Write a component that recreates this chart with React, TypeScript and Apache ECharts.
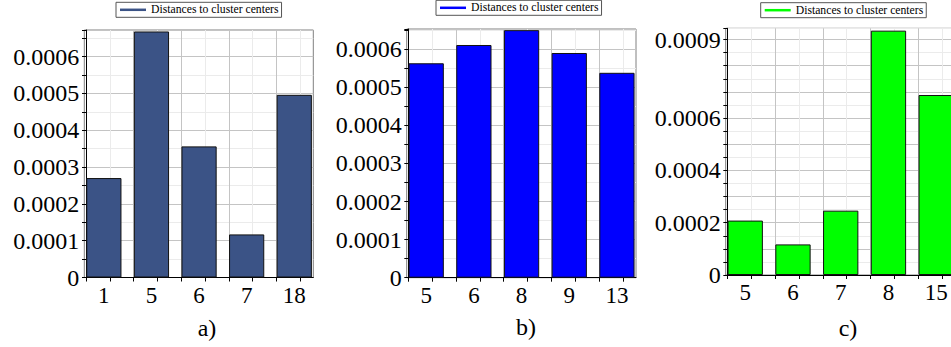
import React, { useEffect, useRef } from "react";
import * as echarts from "echarts";

// ---- data ----
const legendName = "Distances to cluster centers";

const catsA = ["1", "5", "6", "7", "18"];
const valsA = [0.00027, 0.000668, 0.000356, 0.000117, 0.000496];

const catsB = ["5", "6", "8", "9", "13"];
const valsB = [0.000563, 0.000611, 0.00065, 0.00059, 0.000538];

const catsC = ["5", "6", "7", "8", "15"];
const valsC = [0.000208, 0.000117, 0.000246, 0.000934, 0.000688];

const yLabelsA = [0, 0.0001, 0.0002, 0.0003, 0.0004, 0.0005, 0.0006];
const yLabelsB = [0, 0.0001, 0.0002, 0.0003, 0.0004, 0.0005, 0.0006];
const yLabelsC = [0, 0.0002, 0.0004, 0.0006, 0.0009];

const captions = ["a)", "b)", "c)"];

// ---- layout / style ----
const FONT = "Liberation Serif";
const MAJOR = "#c4c4c4";
const MINOR = "#ebebeb";

const panels = [
  {
    cats: catsA, vals: valsA, yLabels: yLabelsA, color: "#3b5386",
    left: 84.3, top: 30, width: 229, height: 247.5,
    xMin: -0.036, xMax: 4.775, yMax: 0.000672,
    legendLeft: 116, legendTop: 2.3, capX: 207, capY: 328,
  },
  {
    cats: catsB, vals: valsB, yLabels: yLabelsB, color: "#0000ff",
    left: 406.7, top: 29, width: 229.3, height: 248.7,
    xMin: -0.034, xMax: 4.775, yMax: 0.000653,
    legendLeft: 436, legendTop: 0.3, capX: 526, capY: 327,
  },
  {
    cats: catsC, vals: valsC, yLabels: yLabelsC, color: "#00ff00",
    left: 725.7, top: 28.3, width: 229.6, height: 246.7,
    xMin: -0.034, xMax: 4.775, yMax: 0.000943,
    legendLeft: 760.7, legendTop: 2.7, capX: 848, capY: 328,
  },
];

const fmtY = (v: number) => (v === 0 ? "0" : v.toFixed(4));

export default function App() {
  const ref = useRef<HTMLDivElement>(null);

  useEffect(() => {
    if (!ref.current) return;
    const chart = echarts.init(ref.current, undefined, { renderer: "svg" });

    const grid: any[] = [];
    const xAxis: any[] = [];
    const yAxis: any[] = [];
    const series: any[] = [];
    const legend: any[] = [];
    const graphic: any[] = [];

    panels.forEach((p, i) => {
      const unit = p.width / (p.xMax - p.xMin);
      const xTicks: number[] = [];
      for (let k = 0; k < p.cats.length * 2; k++) xTicks.push(k * 0.5);
      const centers = p.cats.map((_, j) => j + 0.375);

      grid.push({
        left: p.left,
        top: p.top,
        width: p.width,
        height: p.height,
        show: true,
        borderColor: "#808080",
        borderWidth: 1,
        backgroundColor: "transparent",
        containLabel: false,
        outerBoundsMode: "none",
      });

      xAxis.push({
        type: "value",
        gridIndex: i,
        min: p.xMin,
        max: p.xMax,
        axisLine: { show: true, onZero: false, lineStyle: { color: "#000", width: 1 } },
        axisTick: { show: true, customValues: xTicks, length: 4, inside: false, lineStyle: { color: "#000" } },
        axisLabel: {
          customValues: centers,
          formatter: (v: number) => p.cats[Math.round(v - 0.375)] ?? "",
          fontFamily: FONT,
          fontSize: 23,
          color: "#000",
          margin: 6,
        },
        splitLine: { show: true, lineStyle: { color: [MAJOR, MINOR], width: 1 } },
      });

      yAxis.push({
        type: "value",
        gridIndex: i,
        min: 0,
        max: p.yMax,
        interval: 0.00005,
        axisLine: { show: true, lineStyle: { color: "#000", width: 1 } },
        axisTick: { show: true, length: 4, inside: false, lineStyle: { color: "#000" } },
        axisLabel: {
          customValues: p.yLabels,
          formatter: (v: number) => fmtY(v),
          fontFamily: FONT,
          fontSize: 24,
          color: "#000",
          margin: 5,
        },
        splitLine: { show: true, lineStyle: { color: [MAJOR, MINOR], width: 1 } },
      });

      series.push({
        type: "bar",
        name: legendName,
        xAxisIndex: i,
        yAxisIndex: i,
        barWidth: 0.75 * unit - 0.5,
        silent: true,
        itemStyle: { color: p.color, borderColor: "#111", borderWidth: 1 },
        data: p.vals.map((v, j) => [centers[j], v]),
      });

      legend.push({
        show: true,
        left: p.legendLeft,
        top: p.legendTop,
        orient: "horizontal",
        selectedMode: false,
        icon: "rect",
        itemWidth: 26,
        itemHeight: 2.5,
        itemGap: 0,
        padding: [1, 3, 1, 4],
        borderColor: "#555",
        borderWidth: 1,
        backgroundColor: "#fff",
        textStyle: { fontFamily: FONT, fontSize: 11.7, color: "#000", lineHeight: 13 },
        data: [{ name: legendName, itemStyle: { color: p.color, borderWidth: 0 } }],
      });

      graphic.push({
        type: "text",
        x: p.capX,
        y: p.capY,
        style: {
          text: captions[i],
          fontFamily: FONT,
          fontSize: 24,
          fill: "#000",
          align: "center",
          verticalAlign: "middle",
        },
      });
    });

    chart.setOption({
      animation: false,
      backgroundColor: "#fff",
      textStyle: { fontFamily: FONT },
      grid,
      xAxis,
      yAxis,
      series,
      legend,
      graphic,
    });

    return () => chart.dispose();
  }, []);

  return (
    <div
      ref={ref}
      style={{ position: "absolute", left: 0, top: 0, width: 951, height: 347, background: "#fff" }}
    />
  );
}
